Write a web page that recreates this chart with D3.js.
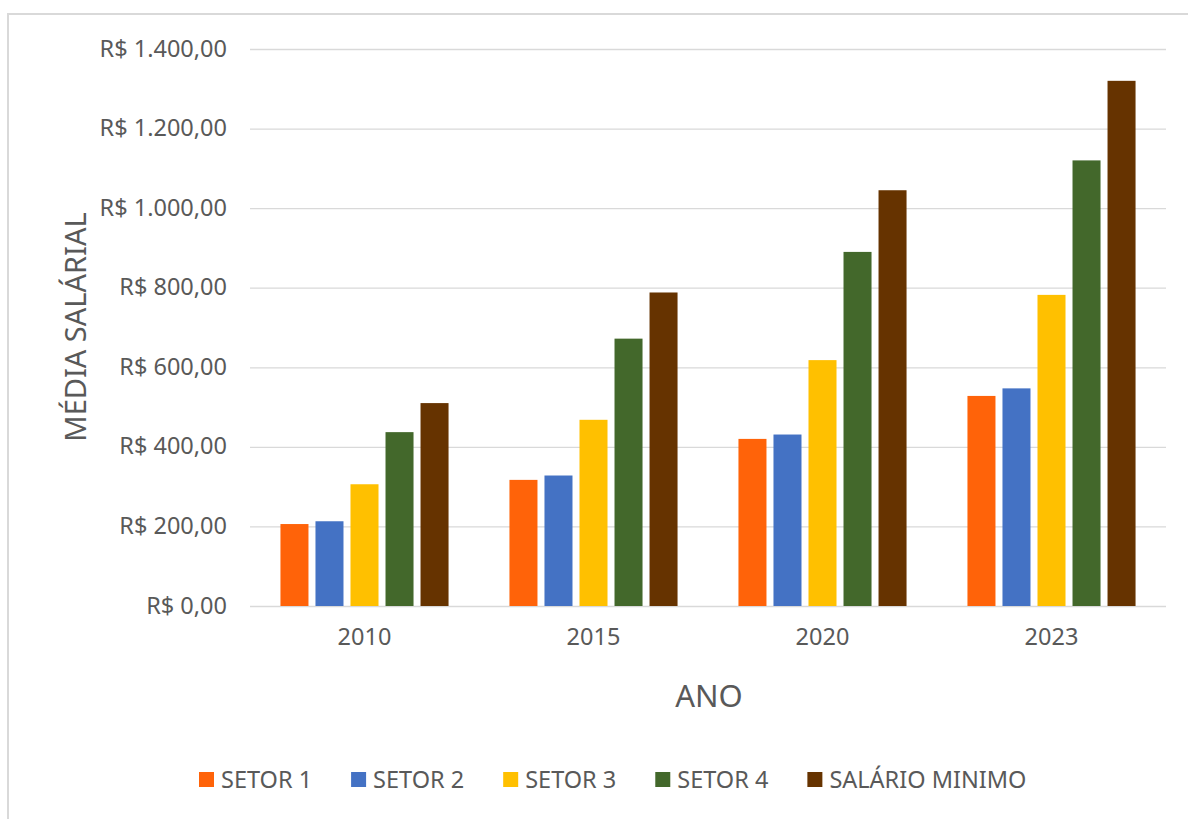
<!DOCTYPE html>
<html>
<head>
<meta charset="utf-8">
<script src="https://cdn.jsdelivr.net/npm/d3@7"></script>
<style>
html,body{margin:0;padding:0;background:#fff;}
svg{display:block;}
text{font-family:"Noto Sans","Open Sans",sans-serif;fill:#595959;}
</style>
</head>
<body>
<svg id="chart" width="1188" height="819"></svg>
<script>
const categories = ["2010", "2015", "2020", "2023"];
const seriesNames = ["SETOR 1", "SETOR 2", "SETOR 3", "SETOR 4", "SALÁRIO MINIMO"];
const setor1 = [206, 317, 420, 528];
const setor2 = [213, 328, 431, 547];
const setor3 = [306, 468, 618, 782];
const setor4 = [437, 672, 890, 1120];
const salarioMinimo = [510, 788, 1045, 1320];
const seriesColors = ["#FF6309", "#4472C4", "#FFC000", "#43682B", "#663300"];
const yTicks = [0, 200, 400, 600, 800, 1000, 1200, 1400];
const yTitle = "MÉDIA SALÁRIAL";
const xTitle = "ANO";

(function () {
const seriesValues = [setor1, setor2, setor3, setor4, salarioMinimo];

const svg = d3.select("#chart");
const pLeft = 250, pRight = 1166, pTop = 49, pBottom = 606;

// chart frame
svg.append("rect").attr("x", 8).attr("y", 14).attr("width", 1200).attr("height", 820)
  .attr("fill", "#fff").attr("stroke", "#d9d9d9").attr("stroke-width", 2);

const y = d3.scaleLinear().domain([0, 1400]).range([pBottom, pTop]);
const x0 = d3.scaleBand().domain(categories).range([pLeft, pRight]).padding(0);
const bw = x0.bandwidth();
const x1 = d3.scaleBand().domain(seriesNames).range([bw * 0.133, bw * 0.867]).paddingInner(0.2).paddingOuter(0);

const fmt = v => "R$ " + d3.format(",.2f")(v).replace(/,/g, "#").replace(/\./g, ",").replace(/#/g, ".");

// gridlines
const yAxis = d3.axisLeft(y).tickValues(yTicks).tickSize(-(pRight - pLeft)).tickFormat(fmt).tickPadding(23);
const gy = svg.append("g").attr("transform", `translate(${pLeft},0)`).call(yAxis);
gy.select(".domain").remove();
gy.selectAll(".tick line").attr("stroke", "#d9d9d9").attr("stroke-width", 1.3);
gy.selectAll(".tick text").attr("font-size", 23.5).attr("fill", "#595959")
  .style("font-family", '"Noto Sans","Open Sans",sans-serif').attr("dy", "0.3em");

// bars
const groups = svg.append("g").selectAll("g").data(categories).join("g")
  .attr("transform", d => `translate(${x0(d)},0)`);
groups.selectAll("rect").data((d, i) => seriesNames.map((s, j) => ({s, j, v: seriesValues[j][i]})))
  .join("rect")
  .attr("x", d => x1(d.s))
  .attr("width", x1.bandwidth())
  .attr("y", d => y(d.v))
  .attr("height", d => y(0) - y(d.v))
  .attr("fill", d => seriesColors[d.j]);

// x axis
const xAxis = d3.axisBottom(x0).tickSize(0).tickPadding(22);
const gx = svg.append("g").attr("transform", `translate(0,${pBottom})`).call(xAxis);
gx.select(".domain").remove();
gx.selectAll(".tick text").attr("font-size", 23.5).attr("fill", "#595959")
  .style("font-family", '"Noto Sans","Open Sans",sans-serif');

// axis titles
svg.append("text").attr("x", 709).attr("y", 707).attr("text-anchor", "middle")
  .attr("font-size", 31).text(xTitle);
svg.append("text").attr("transform", "translate(86,327) rotate(-90)").attr("text-anchor", "middle")
  .attr("font-size", 29).text(yTitle);

// legend
const legend = svg.append("g");
let lx = 199;
seriesNames.forEach((name, j) => {
  const g = legend.append("g").attr("transform", `translate(${lx},0)`);
  g.append("rect").attr("x", 0).attr("y", 772).attr("width", 15).attr("height", 15).attr("fill", seriesColors[j]);
  const t = g.append("text").attr("x", 22).attr("y", 788).attr("font-size", 23.5).text(name);
  lx += 22 + t.node().getComputedTextLength() + 39;
});
})();
</script>
</body>
</html>
